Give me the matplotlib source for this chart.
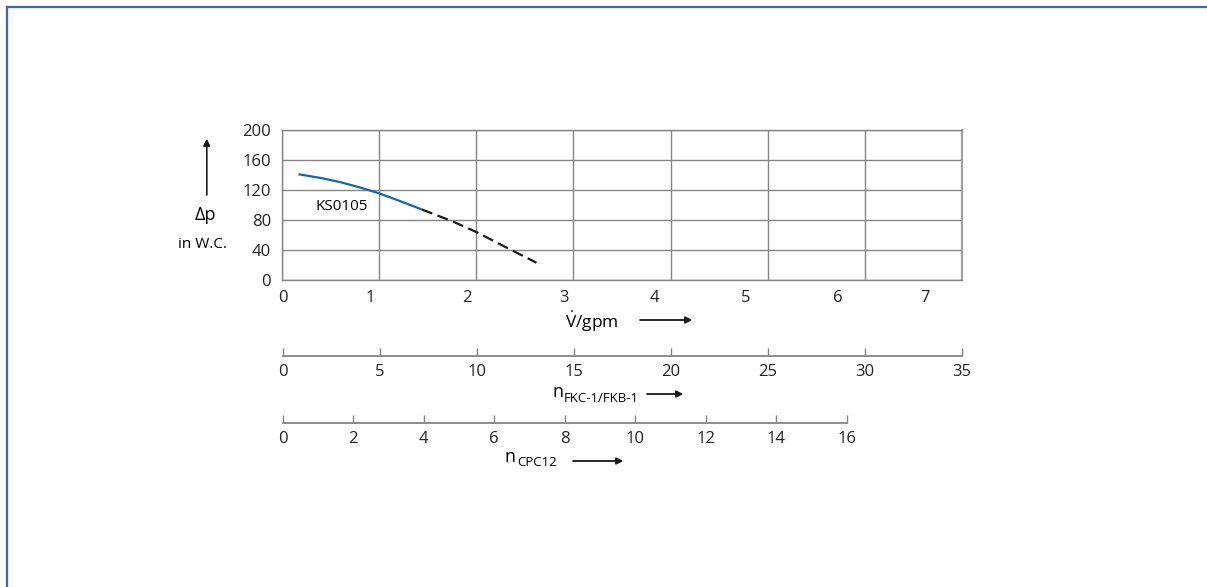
import matplotlib
matplotlib.use("Agg")
import matplotlib.pyplot as plt
from matplotlib.lines import Line2D

plt.rcParams["font.family"] = ["Open Sans", "DejaVu Sans"]
plt.rcParams["mathtext.fontset"] = "custom"
plt.rcParams["mathtext.rm"] = "Open Sans"
plt.rcParams["mathtext.it"] = "Open Sans"

W, H = 1207, 587

# curve KS0105 (x in gpm, y in in W.C.)
flow_solid = [0.17, 0.4, 0.6, 0.8, 1.0, 1.2, 1.44]
dp_solid = [141, 136, 130.5, 123.5, 115.5, 106, 94]
flow_dash = [1.44, 1.75, 2.0, 2.3, 2.62]
dp_dash = [94, 78.5, 64, 44, 23]

x_grid = [0, 1, 2, 3, 4, 5, 6, 7]
x_labels = ["0", "1", "2", "3", "4", "5", "6", "7"]
x_label_pos = [0.01, 0.91, 1.90, 2.90, 3.83, 4.77, 5.72, 6.62]
y_ticks = [0, 40, 80, 120, 160, 200]

fkc_ticks = [0, 5, 10, 15, 20, 25, 30, 35]
cpc_ticks = [0, 2, 4, 6, 8, 10, 12, 14, 16]

GRID = "#858585"
BLUE = "#1565AE"


def fx(px):
    return px / W


def fy(py):
    return 1 - py / H


fig = plt.figure(figsize=(W / 100, H / 100), dpi=100)

ax = fig.add_axes([fx(282), fy(280), fx(962) - fx(282), fy(130) - fy(280)])
ax.plot(flow_solid, dp_solid, color=BLUE, lw=1.6, solid_capstyle="butt")
ax.plot(flow_dash, dp_dash, color="#1a1a1a", lw=1.6, dashes=(5, 2.5))
ax.text(0.61, 98, "KS0105", ha="center", va="center", fontsize=11)

ax.set_xlim(0, 7)
ax.set_ylim(0, 200)
ax.set_xticks(x_label_pos)
ax.set_xticklabels(x_labels)
ax.set_xticks(x_grid, minor=True)
ax.set_yticks(y_ticks)
ax.tick_params(axis="both", which="both", length=0, labelsize=12, colors="#222222")
ax.tick_params(axis="x", pad=7)
ax.tick_params(axis="y", pad=8)
ax.grid(True, axis="x", which="minor", color=GRID, lw=1)
ax.grid(True, axis="y", which="major", color=GRID, lw=1)
for s in ax.spines.values():
    s.set_color(GRID)
    s.set_linewidth(1)
ax.spines["right"].set_linewidth(1.6)
ax.spines["right"].set_color("#a0a0a0")


def scale_axis(left_px, right_px, line_py, ticks):
    a = fig.add_axes([fx(left_px), fy(line_py), fx(right_px) - fx(left_px), 0.01])
    a.set_xlim(ticks[0], ticks[-1])
    a.set_xticks(ticks)
    a.set_yticks([])
    a.patch.set_visible(False)
    for k in ["top", "left", "right"]:
        a.spines[k].set_visible(False)
    a.spines["bottom"].set_color(GRID)
    a.spines["bottom"].set_linewidth(1.3)
    a.tick_params(axis="x", direction="in", length=6, width=1, color=GRID,
                  labelsize=12, pad=6, labelcolor="#222222")
    return a


scale_axis(282.7, 962, 356, fkc_ticks)
scale_axis(282.7, 847, 422.7, cpc_ticks)

# axis titles
fig.text(fx(565), fy(322), r"$\dot{\mathrm{V}}$/gpm", ha="left", va="center", fontsize=12.5)
fig.text(fx(552), fy(392), "n", ha="left", va="center", fontsize=13)
fig.text(fx(564), fy(398), "FKC-1/FKB-1", ha="left", va="center", fontsize=9.5)
fig.text(fx(505), fy(457.5), "n", ha="left", va="center", fontsize=13)
fig.text(fx(517), fy(463), "CPC12", ha="left", va="center", fontsize=9.5)
fig.text(fx(205), fy(215), "\u0394p", ha="center", va="center", fontsize=13)
fig.text(fx(202.7), fy(245), "in W.C.", ha="center", va="center", fontsize=11)

arrow = dict(arrowstyle="-|>", color="#1a1a1a", lw=1, mutation_scale=10, shrinkA=0, shrinkB=0)
for (x0, y0, x1, y1) in [(640, 320, 692, 320), (647, 394, 683, 394),
                         (573, 461, 623, 461), (206.7, 195, 206.7, 139)]:
    fig.add_artist(plt.annotate("", xy=(fx(x1), fy(y1)), xytext=(fx(x0), fy(y0)),
                                xycoords="figure fraction", textcoords="figure fraction",
                                arrowprops=arrow))

# page frame
frame = "#4263B5"
fig.add_artist(Line2D([fx(6.7), fx(6.7)], [0, fy(6.7)], color=frame, lw=1.6))
fig.add_artist(Line2D([fx(6.7), 1], [fy(6.7), fy(6.7)], color=frame, lw=1.6))

fig.savefig("out.png", dpi=100)
